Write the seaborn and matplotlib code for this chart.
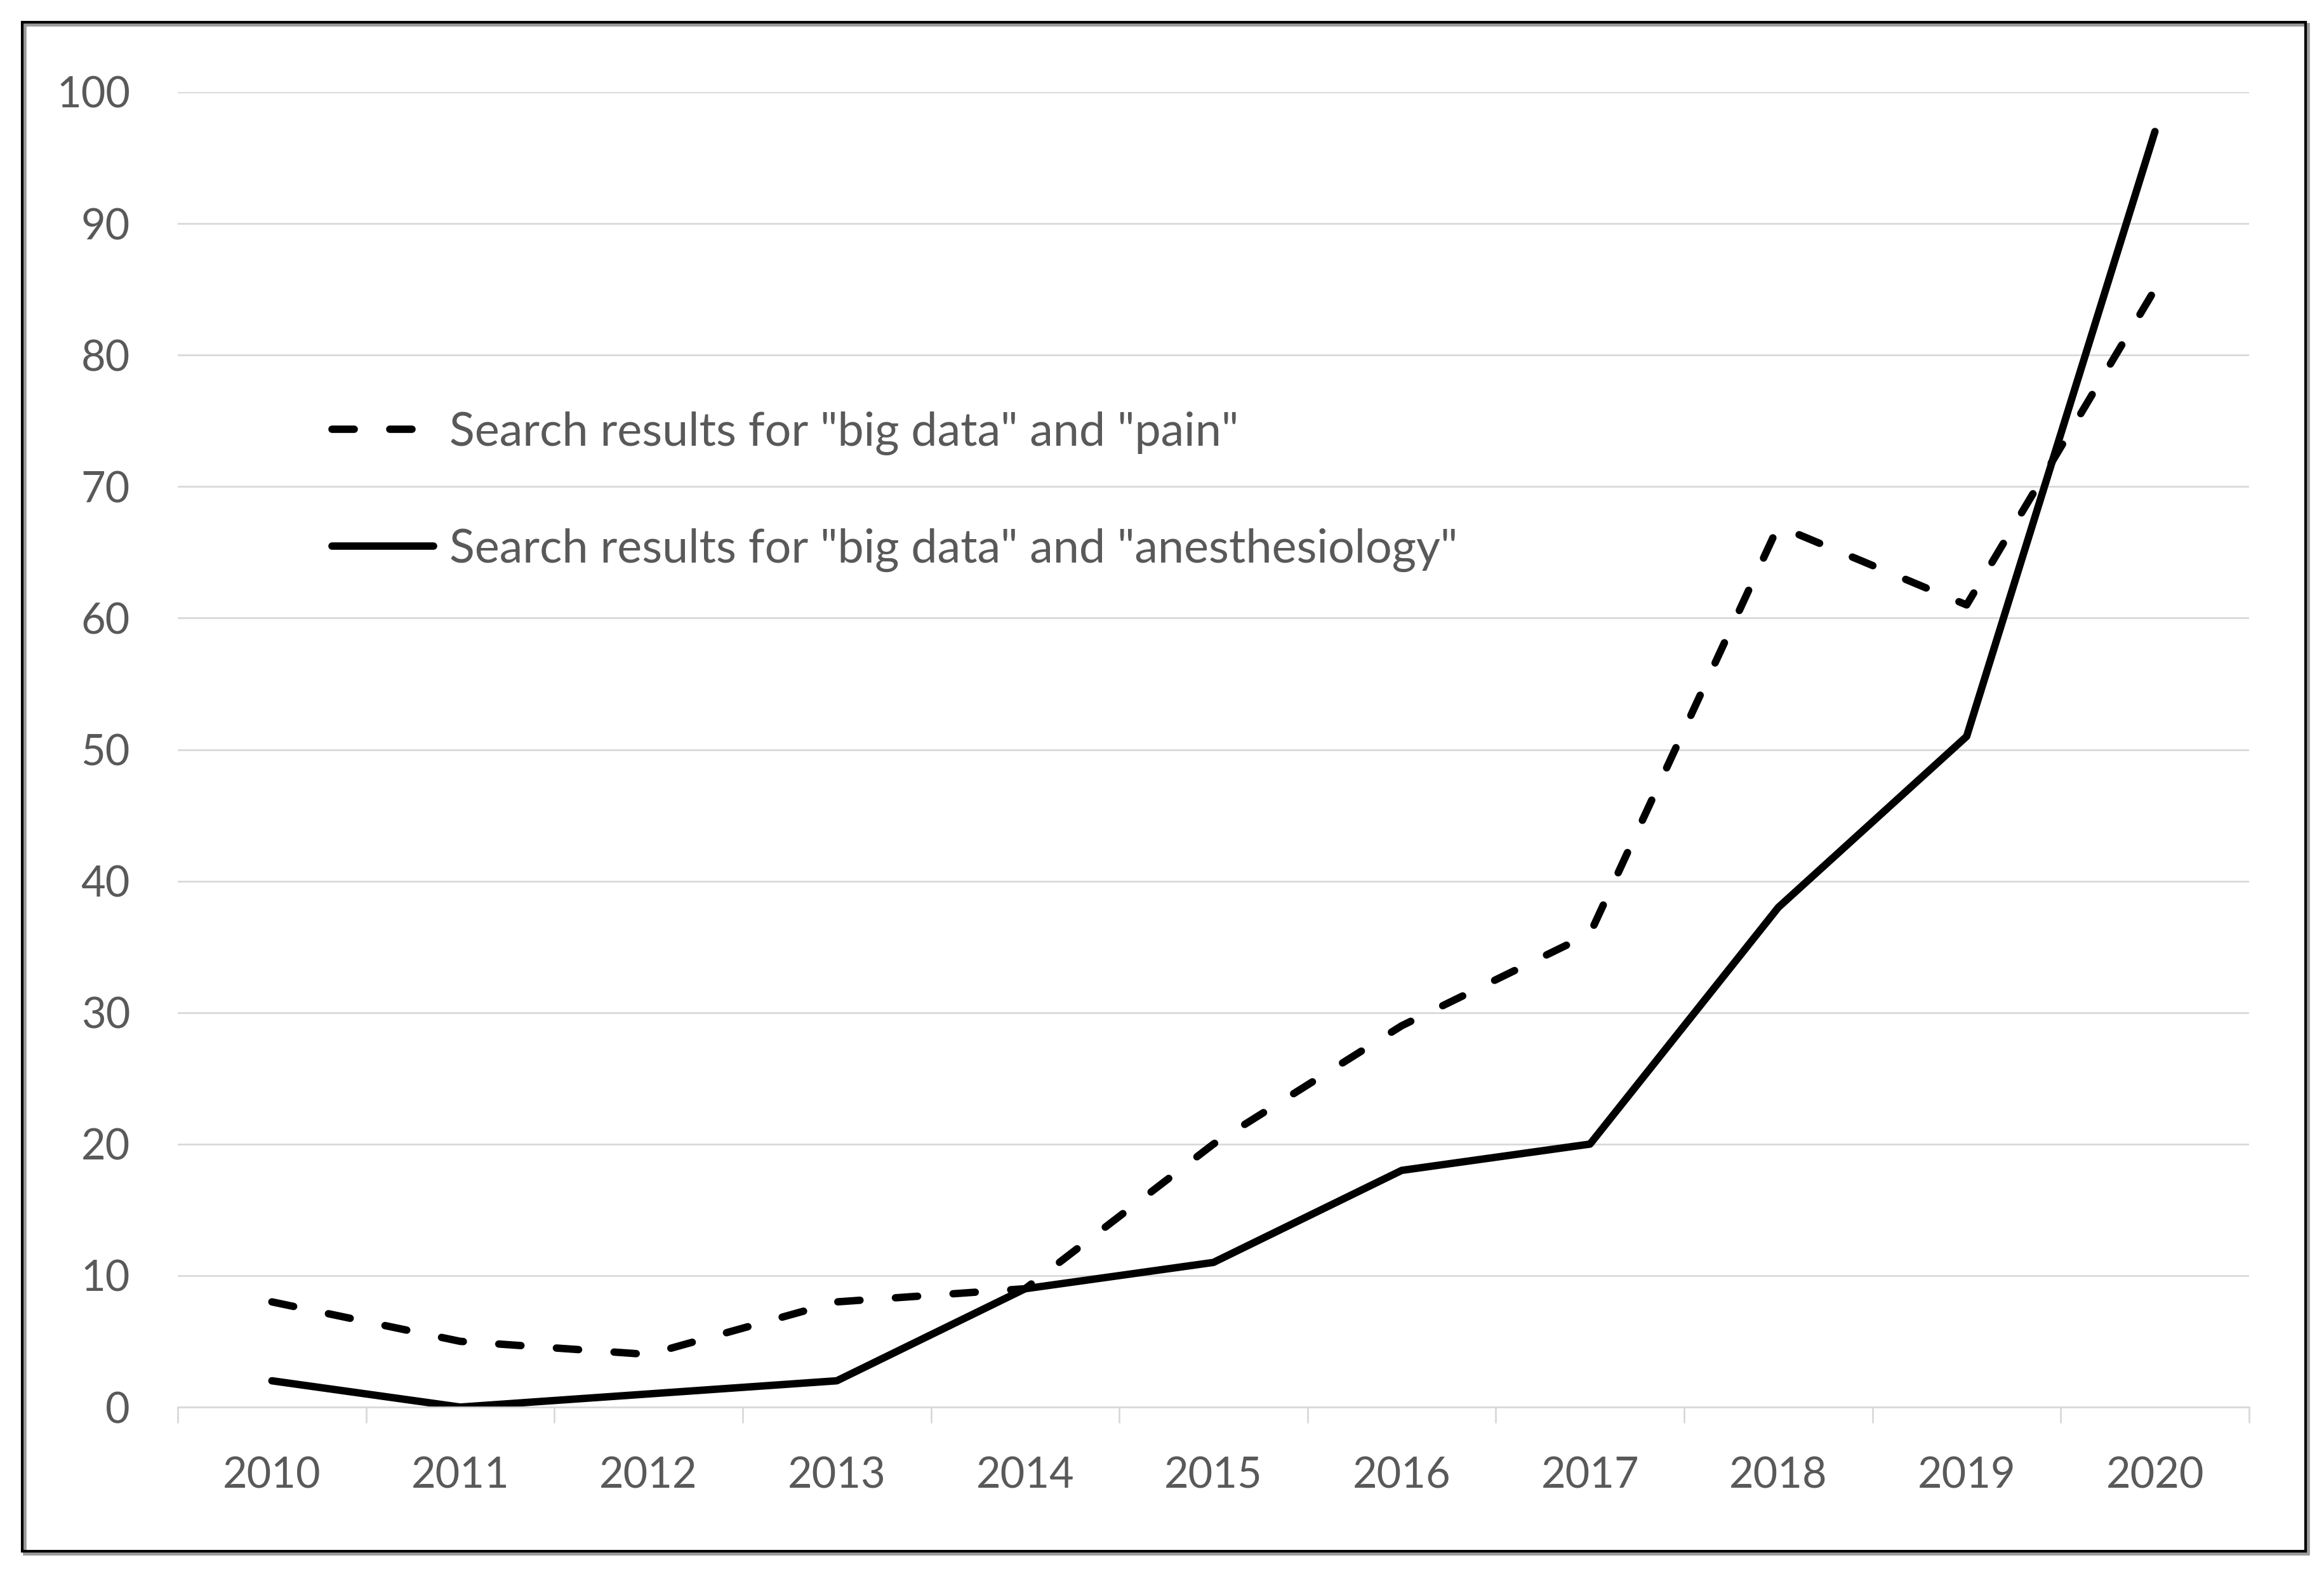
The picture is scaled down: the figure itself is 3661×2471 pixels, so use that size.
import matplotlib
matplotlib.use("Agg")
import matplotlib.pyplot as plt
from matplotlib.patches import Rectangle
from matplotlib.ticker import FixedLocator
import seaborn as sns
import pandas as pd

years = [2010, 2011, 2012, 2013, 2014, 2015, 2016, 2017, 2018, 2019, 2020]
pain = [8, 5, 4, 8, 9, 20, 29, 36, 67, 61, 85]
anesthesiology = [2, 0, 1, 2, 9, 11, 18, 20, 38, 51, 97]
label_pain = 'Search results for "big data" and "pain"'
label_anes = 'Search results for "big data" and "anesthesiology"'

sns.set_theme(style="white")
plt.rcParams["font.family"] = ["Lato", "DejaVu Sans"]
plt.rcParams["lines.dash_capstyle"] = "round"
plt.rcParams["lines.solid_capstyle"] = "round"

DPI = 200
W, H = 3662, 2471
fig = plt.figure(figsize=(W / DPI, H / DPI), dpi=DPI)
fig.patch.set_facecolor("white")

ax = fig.add_axes([280 / W, 255 / H, (3543 - 280) / W, (2326 - 255) / H])

df = pd.DataFrame({"year": years, "pain": pain, "anes": anesthesiology})

lw = 4.2
sns.lineplot(data=df, x="year", y="pain", ax=ax, color="black", linewidth=lw,
             label=label_pain)
sns.lineplot(data=df, x="year", y="anes", ax=ax, color="black", linewidth=lw,
             label=label_anes)
ax.lines[0].set_dashes((3.0, 4.8))

ax.set_xlim(2009.5, 2020.5)
ax.set_ylim(0, 100)
ax.set_xlabel("")
ax.set_ylabel("")

grid_c = "#d9d9d9"
text_c = "#595959"
ax.set_yticks(range(0, 101, 10))
ax.grid(axis="y", color=grid_c, linewidth=1.0)
ax.set_axisbelow(True)
ax.set_xticks(years)
ax.set_xticklabels([str(y) for y in years])
ax.xaxis.set_minor_locator(FixedLocator([y - 0.5 for y in years] + [years[-1] + 0.5]))

for s in ["top", "right", "left"]:
    ax.spines[s].set_visible(False)
ax.spines["bottom"].set_color(grid_c)
ax.spines["bottom"].set_linewidth(1.0)

ax.tick_params(axis="x", which="major", length=0, pad=28, labelsize=24, labelcolor=text_c)
ax.tick_params(axis="x", which="minor", length=9, width=1.0, color=grid_c, bottom=True)
ax.tick_params(axis="y", length=0, pad=27, labelsize=24, labelcolor=text_c)

leg = ax.legend(loc="upper left", bbox_to_anchor=(0.0745, 0.757), frameon=False,
                fontsize=26.5, handlelength=2.17, handletextpad=0.34,
                labelspacing=1.56, borderpad=0, borderaxespad=0)
for t in leg.get_texts():
    t.set_color(text_c)

# outer frame with shadow
fig.patches.append(Rectangle((39 / W, 24 / H), (3632 - 35) / W, (2436 - 28) / H,
                             transform=fig.transFigure, fill=False,
                             edgecolor="#9a9a9a", linewidth=2.0, zorder=0))
fig.patches.append(Rectangle((35 / W, 28 / H), (3632 - 35) / W, (2436 - 28) / H,
                             transform=fig.transFigure, fill=False,
                             edgecolor="black", linewidth=1.5, zorder=1))

fig.savefig("out.png", dpi=DPI, facecolor="white")
